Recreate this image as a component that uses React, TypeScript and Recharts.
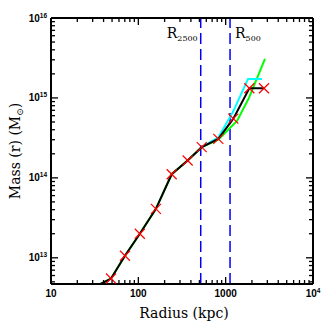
import { ComposedChart, Line, Scatter, XAxis, YAxis, ReferenceLine } from 'recharts'

// radius (kpc) and enclosed mass (Msun)
const markerR = [48.7, 70.3, 104, 159, 241, 367, 532, 824, 1224, 1866, 2748]
const markerM = [5.5e12, 1.06e13, 2.0e13, 4.1e13, 1.11e14, 1.65e14, 2.42e14, 3.07e14, 5.5e14, 1.32e15, 1.32e15]

const blackR = [35.5, 48.7, 70.3, 104, 159, 241, 367, 532, 824, 1224, 1866, 2748]
const blackM = [4.6e12, 5.5e12, 1.06e13, 2.0e13, 4.1e13, 1.11e14, 1.65e14, 2.42e14, 3.07e14, 5.5e14, 1.32e15, 1.32e15]

const greenR = [35.5, 48.7, 70.3, 104, 159, 241, 367, 532, 824, 1349, 1849, 2818]
const greenM = [4.6e12, 5.5e12, 1.06e13, 2.0e13, 4.1e13, 1.11e14, 1.65e14, 2.42e14, 3.0e14, 5.16e14, 1.0e15, 3.07e15]

const cyanR = [532, 824, 1213, 1803, 2606]
const cyanM = [2.42e14, 3.2e14, 6.7e14, 1.73e15, 1.73e15]

const r2500 = 518
const r500 = 1122

const xMajor = [10, 100, 1000, 10000]
const xLabels = [['10', ''], ['100', ''], ['1000', ''], ['10', '4']]
const yMajor = [1e13, 1e14, 1e15, 1e16]
const yLabels = [['10', '13'], ['10', '14'], ['10', '15'], ['10', '16']]

const xDomain = [10, 10000]
const yDomain = [4.7e12, 1e16]

const toRows = (rs: number[], ms: number[]) => rs.map((r, i) => ({ r, m: ms[i] }))

// log minor ticks inside the domain
const logTicks = (majors: number[], lo: number, hi: number) => {
  const out: number[] = []
  const first = majors[0] / 10
  for (const base of [first, ...majors]) {
    for (let k = 1; k <= 9; k++) {
      const v = k * base
      if (v >= lo * 0.999 && v <= hi * 1.001) out.push(v)
    }
  }
  return out
}

const xTicks = logTicks(xMajor, xDomain[0], xDomain[1])
const yTicks = logTicks(yMajor, yDomain[0], yDomain[1])

const majorIdx = (v: number, majors: number[]) =>
  majors.findIndex((m) => Math.abs(v / m - 1) < 1e-6)

const tickFont = { fontFamily: 'Liberation Sans, Arial, sans-serif', fontWeight: 700 }

function makeTick(side: 'bottom' | 'top' | 'left' | 'right') {
  return (p: any) => {
    const x = Number(p.x)
    const y = Number(p.y)
    const v = p.payload.value
    const isX = side === 'bottom' || side === 'top'
    const idx = majorIdx(v, isX ? xMajor : yMajor)
    const len = idx >= 0 ? 7 : 4
    const w = 1.3
    let rect
    if (side === 'bottom') rect = { x: x - w / 2, y: y - len, width: w, height: len }
    else if (side === 'top') rect = { x: x - w / 2, y, width: w, height: len }
    else if (side === 'left') rect = { x, y: y - w / 2, width: len, height: w }
    else rect = { x: x - len, y: y - w / 2, width: len, height: w }
    let label = null
    if (idx >= 0 && side === 'bottom') {
      const [b, s] = xLabels[idx]
      label = (
        <text x={x} y={y + 13} textAnchor="middle" fontSize={10} fill="#000" stroke="none" {...tickFont}>
          {b}
          {s && <tspan dy={-4} fontSize={6.5}>{s}</tspan>}
        </text>
      )
    }
    if (idx >= 0 && side === 'left') {
      const [b, s] = yLabels[idx]
      label = (
        <text x={x - 4} y={y + 3.5} textAnchor="end" fontSize={10} fill="#000" stroke="none" {...tickFont}>
          {b}
          <tspan dy={-4} fontSize={6.5}>{s}</tspan>
        </text>
      )
    }
    return (
      <g>
        <rect {...rect} fill="#000" stroke="none" />
        {label}
      </g>
    )
  }
}

const Cross = (p: any) => {
  const { cx, cy } = p
  const d = 5
  return (
    <g>
      <line x1={cx - d} y1={cy - d} x2={cx + d} y2={cy + d} stroke="#ff0000" strokeWidth={1.2} />
      <line x1={cx - d} y1={cy + d} x2={cx + d} y2={cy - d} stroke="#ff0000" strokeWidth={1.2} />
    </g>
  )
}

const serif = 'DejaVu Serif, Liberation Serif, serif'

export default function App() {
  return (
    <div style={{ position: 'absolute', left: 0, top: 0, width: 332, height: 332, background: '#fff' }}>
      <ComposedChart width={332} height={332} margin={{ top: 17, right: 18, bottom: 0, left: 0 }}>
        <XAxis
          dataKey="r"
          type="number"
          scale="log"
          domain={xDomain}
          allowDataOverflow
          ticks={xTicks}
          interval={0}
          tickSize={0}
          tickMargin={0}
          tickLine={false}
          tick={makeTick('bottom')}
          height={48}
          axisLine={{ stroke: '#000', strokeWidth: 2 }}
          label={{
            content: () => (
              <text x={184} y={318} textAnchor="middle" fontSize={14} fontFamily={serif} fill="#000">
                Radius (kpc)
              </text>
            ),
          }}
        />
        <XAxis
          xAxisId="top"
          orientation="top"
          dataKey="r"
          type="number"
          scale="log"
          domain={xDomain}
          allowDataOverflow
          ticks={xTicks}
          interval={0}
          tickSize={0}
          tickMargin={0}
          tickLine={false}
          tick={makeTick('top')}
          height={1}
          axisLine={{ stroke: '#000', strokeWidth: 2 }}
        />
        <YAxis
          dataKey="m"
          type="number"
          scale="log"
          domain={yDomain}
          allowDataOverflow
          ticks={yTicks}
          interval={0}
          tickSize={0}
          tickMargin={0}
          tickLine={false}
          tick={makeTick('left')}
          width={51}
          axisLine={{ stroke: '#000', strokeWidth: 2 }}
          label={{
            content: () => (
              <text
                x={20}
                y={151}
                transform="rotate(-90 20 151)"
                textAnchor="middle"
                fontSize={14}
                fontFamily={serif}
                fill="#000"
              >
                Mass (r) (M
                <tspan dy={3} fontSize={9}>⊙</tspan>
                <tspan dy={-3}>)</tspan>
              </text>
            ),
          }}
        />
        <YAxis
          yAxisId="right"
          orientation="right"
          dataKey="m"
          type="number"
          scale="log"
          domain={yDomain}
          allowDataOverflow
          ticks={yTicks}
          interval={0}
          tickSize={0}
          tickMargin={0}
          tickLine={false}
          tick={makeTick('right')}
          width={1}
          axisLine={{ stroke: '#000', strokeWidth: 2 }}
        />
        <ReferenceLine
          x={r2500}
          stroke="#0000ff"
          strokeWidth={1.5}
          strokeDasharray="11 5"
          label={{
            content: (p: any) => (
              <text x={p.viewBox.x - 3} y={38} textAnchor="end" fontSize={14} fontFamily={serif} fill="#000">
                R<tspan dy={3} fontSize={8}>2500</tspan>
              </text>
            ),
          }}
        />
        <ReferenceLine
          x={r500}
          stroke="#0000ff"
          strokeWidth={1.5}
          strokeDasharray="11 5"
          label={{
            content: (p: any) => (
              <text x={p.viewBox.x + 5} y={38} textAnchor="start" fontSize={14} fontFamily={serif} fill="#000">
                R<tspan dy={3} fontSize={8}>500</tspan>
              </text>
            ),
          }}
        />
        <Line
          data={toRows(greenR, greenM)}
          dataKey="m"
          type="linear"
          stroke="#00ff00"
          strokeWidth={2}
          dot={false}
          isAnimationActive={false}
        />
        {/* cyan profile hung on the top/right axes so they get ticks too (same domains) */}
        <Line
          data={toRows(cyanR, cyanM)}
          dataKey="m"
          xAxisId="top"
          yAxisId="right"
          type="linear"
          stroke="#00ffff"
          strokeWidth={2}
          dot={false}
          isAnimationActive={false}
        />
        <Line
          data={toRows(blackR, blackM)}
          dataKey="m"
          type="linear"
          stroke="#000"
          strokeWidth={2}
          dot={false}
          isAnimationActive={false}
        />
        <Scatter data={toRows(markerR, markerM)} dataKey="m" shape={Cross} isAnimationActive={false} />
      </ComposedChart>
    </div>
  )
}
